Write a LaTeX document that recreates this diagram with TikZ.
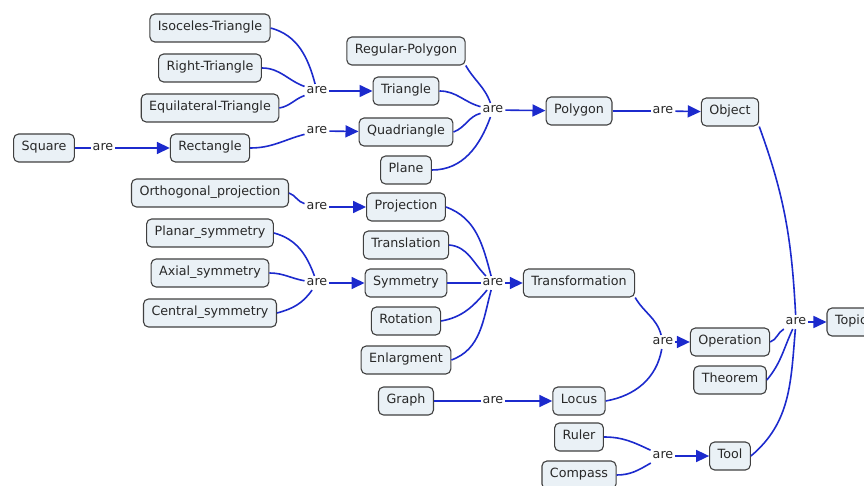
\documentclass[tikz,border=0pt]{standalone}
\usepackage{fontspec}
\setmainfont{DejaVu Sans}
\usetikzlibrary{arrows.meta}
\definecolor{boxFill}{RGB}{234,241,246}
\definecolor{boxLine}{RGB}{64,64,64}
\definecolor{linkBlue}{RGB}{28,42,205}
\definecolor{textGray}{RGB}{40,40,40}
\tikzset{
  conceptBox/.style={draw=boxLine,fill=boxFill,rounded corners=5pt,line width=1.1pt,
    minimum height=28pt,inner xsep=8pt,inner ysep=0pt,text=textGray,
    text height=0.75em,text depth=0.22em,font=\fontsize{12.7}{15}\selectfont},
  linkWord/.style={inner sep=2pt,text=textGray,text height=0.75em,text depth=0.22em,
    font=\fontsize{12.7}{15}\selectfont},
  linkLine/.style={draw=linkBlue,line width=1.6pt},
  linkArrow/.style={linkLine,-{Triangle[length=13pt,width=12pt]}},
}

\begin{document}
\begin{tikzpicture}[x=1pt,y=1pt]
\clip (0,0) rectangle (864,-486);
% concepts
\node[conceptBox] (isoTri) at (210,-28) {Isoceles-Triangle};
\node[conceptBox] (rightTri) at (210,-68) {Right-Triangle};
\node[conceptBox] (equiTri) at (210,-108) {Equilateral-Triangle};
\node[conceptBox] (square) at (44,-148) {Square};
\node[conceptBox] (rect) at (210,-148) {Rectangle};
\node[conceptBox] (orthProj) at (210,-193) {Orthogonal\_projection};
\node[conceptBox] (planSym) at (210,-233) {Planar\_symmetry};
\node[conceptBox] (axSym) at (210,-273) {Axial\_symmetry};
\node[conceptBox] (centSym) at (210,-313) {Central\_symmetry};
\node[conceptBox] (regPoly) at (406,-51) {Regular-Polygon};
\node[conceptBox] (tri) at (406,-91) {Triangle};
\node[conceptBox] (quad) at (406,-132) {Quadriangle};
\node[conceptBox] (plane) at (406,-170) {Plane};
\node[conceptBox] (proj) at (406,-207) {Projection};
\node[conceptBox] (transl) at (406,-245) {Translation};
\node[conceptBox] (sym) at (406,-283) {Symmetry};
\node[conceptBox] (rot) at (406,-321) {Rotation};
\node[conceptBox] (enl) at (406,-360) {Enlargment};
\node[conceptBox] (graph) at (406,-401) {Graph};
\node[conceptBox] (polygon) at (579,-111) {Polygon};
\node[conceptBox] (transf) at (579,-283) {Transformation};
\node[conceptBox] (locus) at (579,-401) {Locus};
\node[conceptBox] (ruler) at (579,-437) {Ruler};
\node[conceptBox] (compass) at (579,-475) {Compass};
\node[conceptBox] (object) at (730,-112) {Object};
\node[conceptBox] (operation) at (730,-342) {Operation};
\node[conceptBox] (theorem) at (730,-380) {Theorem};
\node[conceptBox] (tool) at (730,-456) {Tool};
\node[conceptBox] (topic) at (851,-322) {Topic};
% linking words
\node[linkWord] (areSq) at (103,-148) {are};
\node[linkWord] (areTri) at (317,-91) {are};
\node[linkWord] (areRect) at (317,-131) {are};
\node[linkWord] (areProj) at (317,-207) {are};
\node[linkWord] (areSym) at (317,-283) {are};
\node[linkWord] (arePoly) at (493,-110) {are};
\node[linkWord] (areTrans) at (493,-283) {are};
\node[linkWord] (areLoc) at (493,-401) {are};
\node[linkWord] (areObj) at (663,-111) {are};
\node[linkWord] (areOp) at (663,-342) {are};
\node[linkWord] (areTool) at (663,-456) {are};
\node[linkWord] (areTopic) at (796,-322) {are};
% into the linking words
\draw[linkLine] (square) -- (areSq);
\draw[linkLine] (isoTri.east) to[out=-15,in=105] (areTri);
\draw[linkLine] (rightTri.east) to[out=0,in=160] (areTri);
\draw[linkLine] (equiTri.east) to[out=10,in=-160] (areTri);
\draw[linkLine] (rect.east) to[out=0,in=-165] (areRect);
\draw[linkLine] (orthProj.east) to[out=-20,in=165] (areProj);
\draw[linkLine] (planSym.east) to[out=-15,in=110] (areSym);
\draw[linkLine] (axSym.east) to[out=0,in=170] (areSym);
\draw[linkLine] (centSym.east) to[out=15,in=-125] (areSym);
\draw[linkLine] (regPoly.south east) to[out=-60,in=110] (arePoly);
\draw[linkLine] (tri.east) to[out=0,in=165] (arePoly);
\draw[linkLine] (quad.east) to[out=20,in=-165] (arePoly);
\draw[linkLine] (plane.east) to[out=0,in=-110] (arePoly);
\draw[linkLine] (proj.east) to[out=-20,in=105] (areTrans);
\draw[linkLine] (transl.east) to[out=-5,in=135] (areTrans);
\draw[linkLine] (sym) -- (areTrans);
\draw[linkLine] (rot.east) to[out=10,in=-130] (areTrans);
\draw[linkLine] (enl.east) to[out=20,in=-105] (areTrans);
\draw[linkLine] (graph) -- (areLoc);
\draw[linkLine] (polygon) -- (areObj);
\draw[linkLine] (transf.south east) to[out=-60,in=105] (areOp);
\draw[linkLine] (locus.east) to[out=10,in=-100] (areOp);
\draw[linkLine] (ruler.east) to[out=0,in=155] (areTool);
\draw[linkLine] (compass.east) to[out=0,in=-150] (areTool);
\draw[linkLine] (object.south east) to[out=-70,in=93] (areTopic);
\draw[linkLine] (operation.east) to[out=20,in=-150] (areTopic);
\draw[linkLine] (theorem.east) to[out=50,in=-115] (areTopic);
\draw[linkLine] (tool.east) to[out=40,in=-95] (areTopic);
% out of the linking words
\draw[linkArrow] (areSq) -- (rect);
\draw[linkArrow] (areTri) -- (tri);
\draw[linkArrow] (areRect) -- (quad);
\draw[linkArrow] (areProj) -- (proj);
\draw[linkArrow] (areSym) -- (sym);
\draw[linkArrow] (arePoly) -- (polygon);
\draw[linkArrow] (areTrans) -- (transf);
\draw[linkArrow] (areLoc) -- (locus);
\draw[linkArrow] (areObj) -- (object);
\draw[linkArrow] (areOp) -- (operation);
\draw[linkArrow] (areTool) -- (tool);
\draw[linkArrow] (areTopic) -- (topic);
\end{tikzpicture}
\end{document}
